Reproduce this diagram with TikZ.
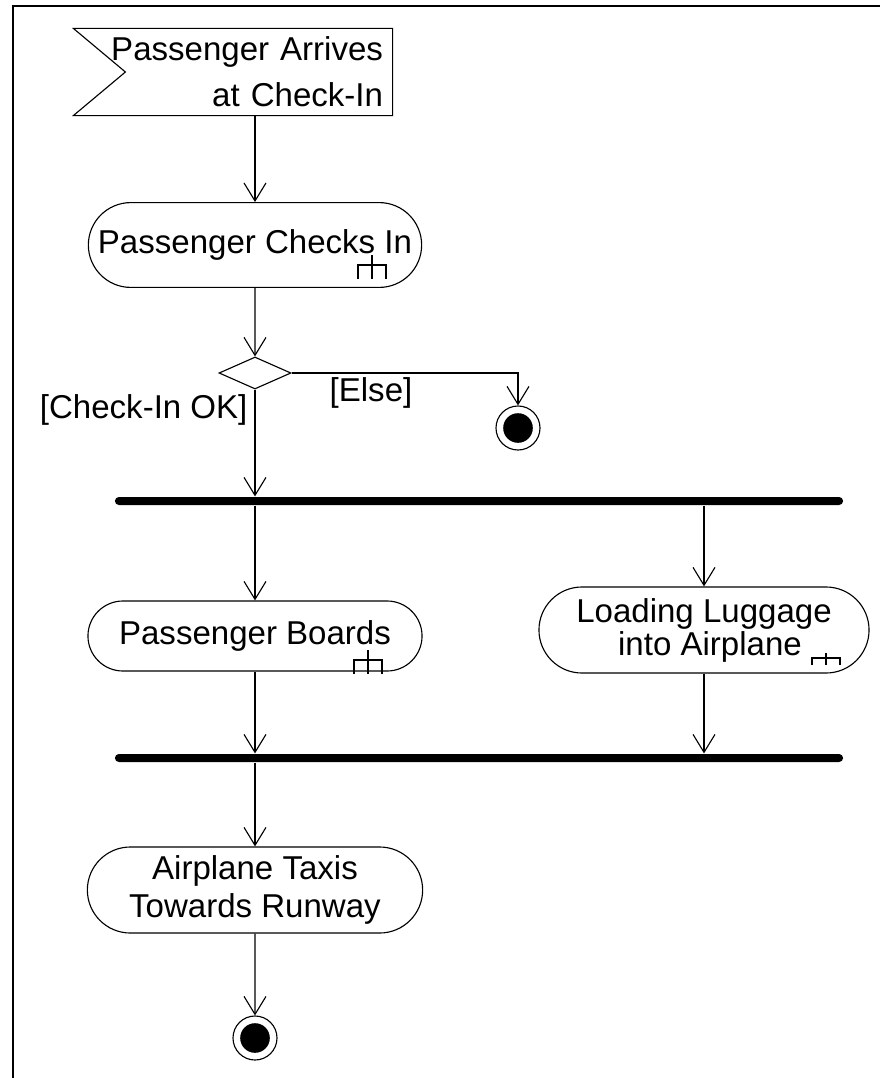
\documentclass[tikz,border=0pt]{standalone}
\usepackage{fontspec}
\setmainfont{Liberation Sans}
\usetikzlibrary{shapes.geometric,shapes.misc,arrows.meta,positioning,calc}

\tikzset{
  action/.style={draw, rounded rectangle, align=center, inner sep=0pt},
  syncbar/.style={fill=black, rectangle, rounded corners=0.1cm, minimum width=18.2cm, minimum height=0.2cm, inner sep=0pt},
  flow/.style={-{Straight Barb[length=0.45cm,width=0.55cm]}},
  endnode/.style={draw, circle, minimum size=1.1cm, inner sep=0pt,
    path picture={\fill[black] (path picture bounding box.center) circle (0.37cm);}},
  rake/.pic={\draw (0,0) -- (0,-0.6cm) (-0.35cm,-0.6cm) -- (-0.35cm,-0.25cm) -- (0.35cm,-0.25cm) -- (0.35cm,-0.6cm);}
}

\begin{document}
\begin{tikzpicture}[x=0.025cm, y=-0.025cm, line width=0.8pt, font=\fontsize{23.5}{27}\selectfont]
    \useasboundingbox (0,0) rectangle (880,1078);
    % frame (only top and left edges show)
    \draw[line width=1.3pt] (13,1078) -- (13,6) -- (880,6);

    % accept signal
    \node[text width=7.5cm, align=right, inner xsep=0.225cm, minimum height=2.15cm,
      font=\fontsize{23.5}{32.7}\selectfont] (arrive) at (233,72)
      {Passenger Arrives\\at Check-In};
    \draw (arrive.north west) -- (arrive.north east) -- (arrive.south east)
      -- (arrive.south west) -- ($(arrive.west)+(1.3cm,0)$) -- cycle;

    \node[action, minimum width=8.33cm, minimum height=2.12cm] (checks) at (255,245)
      {Passenger Checks In};
    \pic at (372,255) {rake};

    \node[draw, diamond, minimum width=1.8cm, minimum height=0.8cm, inner sep=0pt] (dec) at (255,373) {};
    \node[anchor=east, inner sep=0pt] (okguard) at (248,410) {[Check-In OK]};
    \node[inner sep=0pt] (elseguard) at (371,393) {[Else]};
    \node[endnode] (end1) at (518,428) {};

    \node[syncbar] (fork) at (479,501) {};

    \node[action, minimum width=8.35cm, minimum height=1.75cm] (boards) at (255,636)
      {Passenger Boards};
    \pic at (368,650) {rake};
    \node[action, minimum width=8.25cm, minimum height=2.15cm,
      font=\fontsize{23.5}{23.5}\selectfont] (load) at (704,630)
      {Loading Luggage\\\hspace{0.3cm}into Airplane};
    \pic[yscale=0.5] at (826,653) {rake};

    \node[syncbar] (join) at (479,758) {};

    \node[action, minimum width=8.38cm, minimum height=2.15cm,
      font=\fontsize{23.5}{27}\selectfont] (taxi) at (255,890)
      {Airplane Taxis\\Towards Runway};
    \node[endnode] (end2) at (255,1038) {};

    % connectors
    \draw[flow] (checks.north |- arrive.south) -- (checks.north);
    \draw[flow] (checks) -- (dec);
    \draw[flow] (dec.east) -| (end1.north);
    \draw[flow] (dec.south) -- (dec.south |- fork.north);
    \draw[flow] (boards.north |- fork.south) -- (boards.north);
    \draw[flow] (load.north |- fork.south) -- (load.north);
    \draw[flow] (boards.south) -- (boards.south |- join.north);
    \draw[flow] (load.south) -- (load.south |- join.north);
    \draw[flow] (taxi.north |- join.south) -- (taxi.north);
    \draw[flow] (taxi) -- (end2);
\end{tikzpicture}
\end{document}
